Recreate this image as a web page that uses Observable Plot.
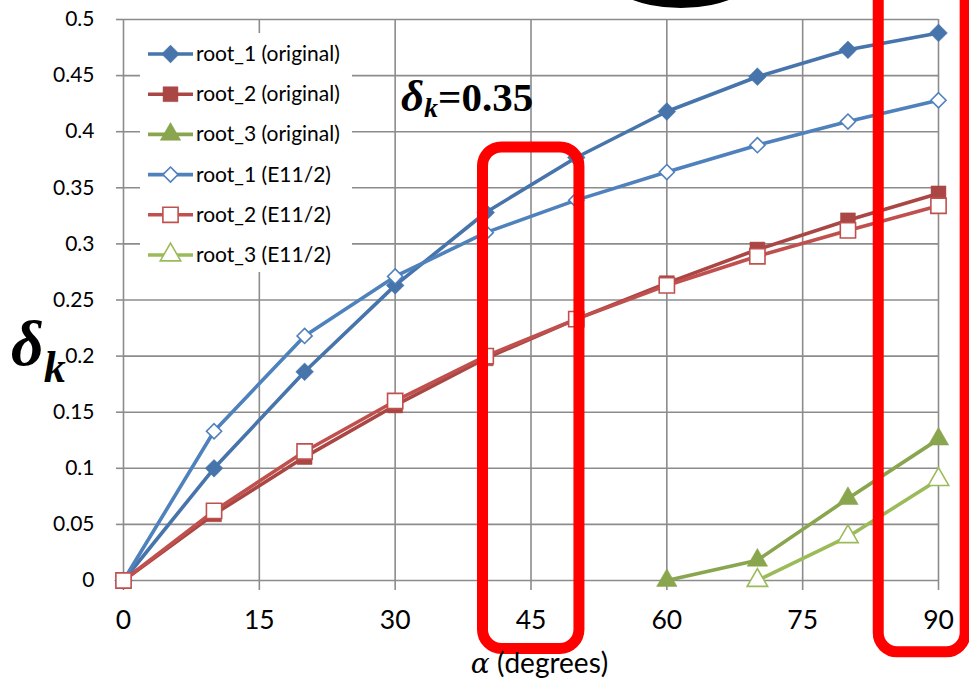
<!DOCTYPE html>
<html><head><meta charset="utf-8">
<script src="https://cdn.jsdelivr.net/npm/d3@7"></script>
<script src="https://cdn.jsdelivr.net/npm/@observablehq/plot@0.6"></script>
<style>
body{margin:0;background:#fff;}
#chart{position:relative;width:969px;height:683px;overflow:hidden;}
svg{overflow:hidden}
</style>
</head><body><div id="chart"></div>
<script>
// ---- data ----
const alpha = [0, 10, 20, 30, 40, 50, 60, 70, 80, 90];
const root1Original = [0, 0.100, 0.186, 0.263, 0.328, 0.377, 0.418, 0.449, 0.473, 0.488];
const root2Original = [0, 0.059, 0.110, 0.156, 0.198, 0.233, 0.265, 0.295, 0.321, 0.345];
const root3Alpha = [60, 70, 80, 90];
const root3Original = [0, 0.018, 0.073, 0.126];
const root1E = [0, 0.133, 0.218, 0.271, 0.310, 0.339, 0.364, 0.388, 0.409, 0.428];
const root2E = [0, 0.062, 0.115, 0.160, 0.200, 0.233, 0.263, 0.289, 0.312, 0.334];
const root3EAlpha = [70, 80, 90];
const root3E = [0, 0.039, 0.090];

const xTicks = [0, 15, 30, 45, 60, 75, 90];
const yTicks = [0, 0.05, 0.1, 0.15, 0.2, 0.25, 0.3, 0.35, 0.4, 0.45, 0.5];
const seriesNames = ["root_1 (original)", "root_2 (original)", "root_3 (original)",
                     "root_1 (E11/2)", "root_2 (E11/2)", "root_3 (E11/2)"];
const annotationText = "0.35";
// annotation boxes (data units)
const boxX1 = [39.7, 83.4];
const boxX2 = [50.35, 93.0];
const boxY1 = [-0.061, -0.064];
const boxY2 = [0.386, 0.56];

// ---- styles ----
const colors = ["#4674AB", "#AA4643", "#89A54E", "#4F81BD", "#C0504D", "#9BBB59"];
const symbols = ["diamond2", "square", "triangle", "diamond2", "square", "triangle"];
const filled = [true, true, true, false, false, false];
const radii = [8, 8.4, 7.6, 6.8, 8.6, 7.6];

const seriesX = [alpha, alpha, root3Alpha, alpha, alpha, root3EAlpha];
const seriesY = [root1Original, root2Original, root3Original, root1E, root2E, root3E];
const series = seriesNames.map((name, i) =>
  seriesX[i].map((a, j) => ({series: name, alpha: a, delta: seriesY[i][j]})));
const boxes = boxX1.map((d, i) => ({x1: d, x2: boxX2[i], y1: boxY1[i], y2: boxY2[i]}));

const grid = "#8c8c8c";
const marks = [
  Plot.gridX(xTicks, {stroke: grid, strokeOpacity: 1, strokeWidth: 1.6}),
  Plot.gridY(yTicks, {stroke: grid, strokeOpacity: 1, strokeWidth: 1.6}),
  Plot.axisY(yTicks, {tickSize: 7, tickPadding: 22, stroke: grid, strokeWidth: 1.6,
    fontSize: 21, fill: "#000", tickFormat: d => String(+d.toFixed(2)), label: null}),
  Plot.axisX(xTicks, {tickSize: 10, tickPadding: 20, stroke: grid, strokeWidth: 1.6,
    fontSize: 26.5, fill: "#000", label: null})
];
series.forEach((data, i) => {
  marks.push(Plot.line(data, {x: "alpha", y: "delta", stroke: colors[i], strokeWidth: 3.6}));
  marks.push(Plot.dot(data, {x: "alpha", y: "delta", symbol: symbols[i], r: radii[i],
    fill: filled[i] ? colors[i] : "white", stroke: colors[i], strokeWidth: filled[i] ? 0.5 : 1.6}));
});
marks.push(Plot.rect(boxes, {x1: "x1", x2: "x2", y1: "y1", y2: "y2", fill: "none",
  stroke: "#ff0000", strokeWidth: 11, rx: 19}));

const chart = Plot.plot({
  width: 969, height: 683,
  marginLeft: 123, marginRight: 31, marginTop: 19, marginBottom: 103,
  style: {fontFamily: "Lato, 'Open Sans', sans-serif", background: "white", overflow: "hidden"},
  x: {domain: [0, 90]},
  y: {domain: [0, 0.5]},
  marks
});
document.getElementById("chart").appendChild(chart);

const svg = d3.select(chart);
const sx = chart.scale("x");

// black ellipse (partially visible at top)
svg.append("ellipse").attr("cx", sx.apply(61.6)).attr("cy", -32).attr("rx", 80).attr("ry", 40).attr("fill", "#000");

// legend
const lg = svg.append("g").attr("text-anchor", "start");
lg.append("rect").attr("x", 140).attr("y", 33).attr("width", 212).attr("height", 239).attr("fill", "white");
const symMap = {diamond2: d3.symbolDiamond2, square: d3.symbolSquare, triangle: d3.symbolTriangle};
seriesNames.forEach((name, i) => {
  const y = 54 + i * 40.2;
  lg.append("line").attr("x1", 148).attr("x2", 193).attr("y1", y).attr("y2", y)
    .attr("stroke", colors[i]).attr("stroke-width", 3.6);
  lg.append("path").attr("transform", `translate(170.5,${y})`)
    .attr("d", d3.symbol(symMap[symbols[i]], Math.PI * radii[i] * radii[i])())
    .attr("fill", filled[i] ? colors[i] : "white").attr("stroke", colors[i])
    .attr("stroke-width", filled[i] ? 0.5 : 1.6);
  lg.append("text").attr("x", 196).attr("y", y + 7).style("font-size", "21px")
    .attr("text-anchor", "start")
    .style("font-family", "Lato, sans-serif").attr("fill", "#000").text(name);
});

// annotation δk = 0.35
const ann = svg.append("text").attr("x", 401).attr("y", 111).attr("text-anchor", "start")
  .style("font-family", "'Liberation Serif', serif").attr("font-weight", "bold").attr("fill", "#000");
ann.append("tspan").attr("font-style", "italic").style("font-size", "45px").text("δ");
ann.append("tspan").attr("font-style", "italic").style("font-size", "28px").attr("dy", 6).text("k");
ann.append("tspan").style("font-size", "41px").attr("dy", -6).text("=" + annotationText);

// y label δk
const yl = svg.append("text").attr("x", 11).attr("y", 365).attr("text-anchor", "start")
  .style("font-family", "'Liberation Serif', serif").attr("font-weight", "bold")
  .attr("font-style", "italic").attr("fill", "#000");
yl.append("tspan").style("font-size", "64px").text("δ");
yl.append("tspan").style("font-size", "44px").attr("dy", 17).text("k");

// x label
const xl = svg.append("text").attr("x", sx.apply(46)).attr("y", 673).attr("text-anchor", "middle")
  .attr("fill", "#000").style("font-size", "28px").style("font-family", "Lato, sans-serif");
xl.append("tspan").style("font-family", "'DejaVu Serif', serif").attr("font-style", "italic").text("α");
xl.append("tspan").text(" (degrees)");
</script>
</body></html>
